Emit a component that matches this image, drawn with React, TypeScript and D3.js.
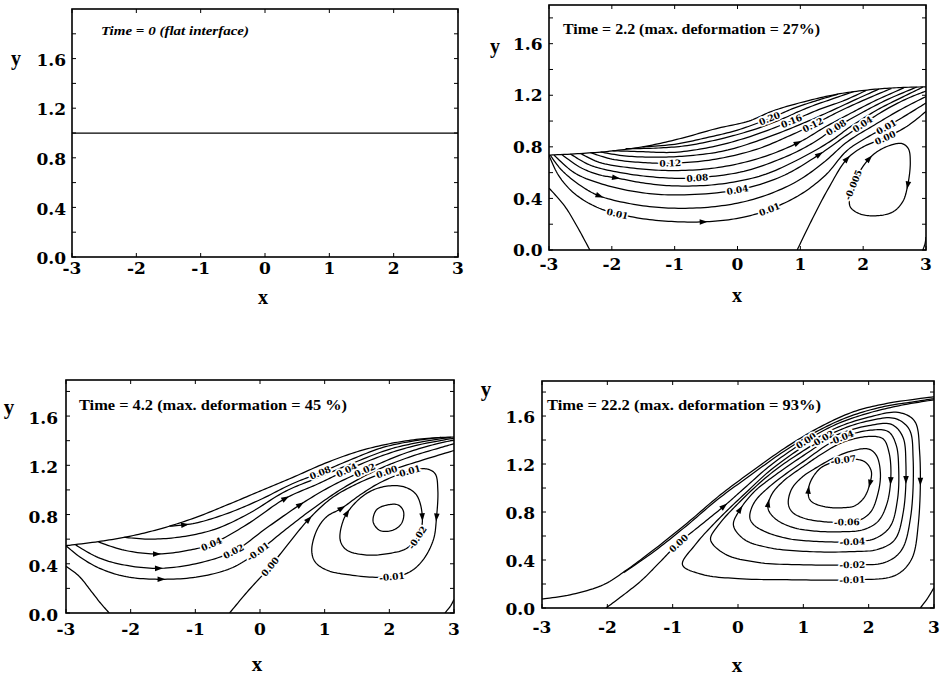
import * as d3 from "d3";

type Pt = [number, number];
type Stream = { id: string; pts: Pt[]; closed?: boolean };
type Label = { line: string; text: string; at: Pt };
type Arrow = { line: string; at: Pt };

// ── Axes ────────────────────────────────────────────────
const X_TICKS = [-3, -2, -1, 0, 1, 2, 3];
const Y_TICKS = [0, 0.4, 0.8, 1.2, 1.6];
const Y_MINOR = [0.2, 0.6, 1.0, 1.4, 1.8];

const TITLES = [
  "Time = 0 (flat interface)",
  "Time = 2.2 (max. deformation = 27%)",
  "Time = 4.2 (max. deformation = 45 %)",
  "Time = 22.2 (max. deformation = 93%)",
];

// ── t = 0 ───────────────────────────────────────────────
const IFACE_T0: Pt[] = [[-3, 1.0], [3, 1.0]];

// ── t = 2.2 ─────────────────────────────────────────────
const IFACE_T2: Pt[] = [[-3, 0.736], [-2.5, 0.748], [-1.94, 0.771], [-1.4, 0.81], [-0.88, 0.868], [-0.35, 0.94], [0.18, 1.0], [0.57, 1.08], [1.1, 1.155], [1.63, 1.212], [2.15, 1.245], [2.6, 1.26], [3, 1.265]];

const STREAMS_T2: Stream[] = [
  { id: "0.20", pts: [[-1.51, 0.8], [-1.0, 0.82], [-0.5, 0.87], [0, 0.93], [0.51, 1.02], [0.9, 1.1], [1.3, 1.165], [1.6, 1.208]] },
  { id: "0.18", pts: [[-1.78, 0.786], [-1.3, 0.79], [-0.8, 0.81], [-0.2, 0.87], [0.3, 0.94], [0.68, 1.01], [1.1, 1.1], [1.5, 1.17], [1.85, 1.228]] },
  { id: "0.16", pts: [[-1.99, 0.77], [-1.5, 0.762], [-1.0, 0.758], [-0.4, 0.8], [0.2, 0.88], [0.86, 1.0], [1.3, 1.09], [1.7, 1.16], [2.05, 1.238]] },
  { id: "0.14", pts: [[-2.18, 0.76], [-1.8, 0.73], [-1.3, 0.72], [-0.8, 0.73], [-0.2, 0.77], [0.4, 0.86], [1.03, 0.98], [1.45, 1.07], [1.85, 1.16], [2.25, 1.248]] },
  { id: "0.12", pts: [[-2.34, 0.755], [-2.0, 0.705], [-1.5, 0.678], [-1.07, 0.673], [-0.4, 0.7], [0.3, 0.78], [0.8, 0.88], [1.2, 0.97], [1.6, 1.07], [2.0, 1.16], [2.45, 1.253]] },
  { id: "0.10", pts: [[-2.5, 0.75], [-2.2, 0.68], [-1.6, 0.632], [-1, 0.616], [-0.3, 0.64], [0.4, 0.72], [1.0, 0.84], [1.38, 0.95], [1.8, 1.06], [2.2, 1.16], [2.65, 1.258]] },
  { id: "0.08", pts: [[-2.66, 0.745], [-2.4, 0.67], [-2.2, 0.635], [-1.6, 0.58], [-1, 0.556], [-0.64, 0.56], [0.1, 0.61], [0.8, 0.73], [1.2, 0.83], [1.57, 0.95], [2.0, 1.07], [2.4, 1.17], [2.85, 1.263]] },
  { id: "0.06", pts: [[-2.8, 0.742], [-2.5, 0.64], [-2.2, 0.583], [-1.94, 0.56], [-1.5, 0.52], [-1, 0.497], [-0.3, 0.51], [0.4, 0.58], [1.0, 0.71], [1.5, 0.85], [1.78, 0.95], [2.2, 1.08], [2.6, 1.18], [2.95, 1.263]] },
  { id: "0.04", pts: [[-2.92, 0.737], [-2.6, 0.6], [-2.2, 0.518], [-1.6, 0.45], [-1, 0.427], [0, 0.466], [0.7, 0.57], [1.3, 0.74], [1.65, 0.86], [1.99, 0.975], [2.4, 1.1], [2.75, 1.185], [3, 1.232]] },
  { id: "0.02", pts: [[-2.98, 0.736], [-2.8, 0.62], [-2.5, 0.5], [-2.2, 0.42], [-1.6, 0.35], [-1, 0.324], [-0.3, 0.34], [0.3, 0.4], [0.9, 0.52], [1.35, 0.67], [1.75, 0.84], [2.18, 0.97], [2.6, 1.09], [3, 1.19]] },
  { id: "0.01", pts: [[-3, 0.736], [-2.85, 0.58], [-2.6, 0.44], [-2.2, 0.324], [-1.6, 0.25], [-1, 0.22], [-0.4, 0.222], [0.1, 0.255], [0.51, 0.315], [1.0, 0.43], [1.4, 0.58], [1.74, 0.77], [2.05, 0.87], [2.37, 0.955], [2.7, 1.05], [3, 1.14]] },
  { id: "0.00", pts: [[0.95, 0], [1.2, 0.25], [1.45, 0.48], [1.74, 0.705], [2.0, 0.8], [2.35, 0.87], [2.7, 0.96], [3, 1.075]] },
  { id: "0.00L", pts: [[-3, 0.48], [-2.75, 0.34], [-2.55, 0.18], [-2.35, 0]] },
  { id: "0.00C", pts: [[2.95, 0], [2.985, 0.05], [3, 0.1]] },
  { id: "-0.005", closed: true, pts: [[1.78, 0.39], [1.84, 0.505], [2.0, 0.65], [2.2, 0.755], [2.45, 0.815], [2.62, 0.825], [2.72, 0.785], [2.75, 0.68], [2.71, 0.505], [2.63, 0.375], [2.47, 0.295], [2.2, 0.265], [1.95, 0.28], [1.8, 0.33]] },
];

const LABELS_T2: Label[] = [
  { line: "0.20", text: "0.20", at: [0.51, 1.02] },
  { line: "0.16", text: "0.16", at: [0.86, 1.0] },
  { line: "0.12", text: "0.12", at: [1.2, 0.97] },
  { line: "0.08", text: "0.08", at: [1.57, 0.95] },
  { line: "0.04", text: "0.04", at: [1.99, 0.975] },
  { line: "0.01", text: "0.01", at: [2.37, 0.955] },
  { line: "0.00", text: "0.00", at: [2.34, 0.87] },
  { line: "0.12", text: "0.12", at: [-1.07, 0.673] },
  { line: "0.08", text: "0.08", at: [-0.64, 0.56] },
  { line: "0.04", text: "0.04", at: [0, 0.466] },
  { line: "0.01", text: "0.01", at: [-1.89, 0.28] },
  { line: "0.01", text: "0.01", at: [0.51, 0.315] },
  { line: "-0.005", text: "-0.005", at: [1.84, 0.5] },
];

const ARROWS_T2: Arrow[] = [
  { line: "0.06", at: [-1.94, 0.56] },
  { line: "0.02", at: [-2.21, 0.42] },
  { line: "0.01", at: [-0.56, 0.222] },
  { line: "0.10", at: [0.97, 0.83] },
  { line: "0.04", at: [1.29, 0.735] },
  { line: "0.00", at: [1.74, 0.705] },
  { line: "-0.005", at: [2.1, 0.71] },
  { line: "-0.005", at: [2.71, 0.5] },
];

// ── t = 4.2 ─────────────────────────────────────────────
const IFACE_T4: Pt[] = [[-3, 0.547], [-2.5, 0.58], [-2, 0.625], [-1.5, 0.69], [-1, 0.775], [-0.5, 0.88], [0, 0.99], [0.5, 1.1], [1, 1.215], [1.5, 1.31], [2, 1.375], [2.5, 1.415], [3, 1.43]];

const STREAMS_T4: Stream[] = [
  { id: "0.08", pts: [[-1.4, 0.705], [-1.0, 0.73], [-0.5, 0.81], [0, 0.92], [0.5, 1.05], [0.93, 1.14], [1.4, 1.245], [1.9, 1.345], [2.4, 1.4], [2.8, 1.427]] },
  { id: "0.06", pts: [[-2.1, 0.615], [-1.7, 0.6], [-1.2, 0.62], [-0.7, 0.68], [-0.2, 0.8], [0.4, 0.99], [0.9, 1.1], [1.4, 1.21], [2, 1.33], [2.5, 1.39], [2.95, 1.427]] },
  { id: "0.04", pts: [[-2.5, 0.578], [-2.1, 0.51], [-1.6, 0.48], [-1.1, 0.51], [-0.75, 0.56], [-0.2, 0.72], [0.39, 0.93], [0.9, 1.05], [1.34, 1.16], [1.9, 1.28], [2.4, 1.36], [3, 1.42]] },
  { id: "0.02", pts: [[-2.85, 0.553], [-2.5, 0.45], [-2.1, 0.39], [-1.57, 0.363], [-1.0, 0.4], [-0.41, 0.5], [0.1, 0.69], [0.62, 0.88], [1.1, 1.03], [1.62, 1.16], [2.2, 1.29], [2.7, 1.37], [3, 1.405]] },
  { id: "A", pts: [[-3, 0.547], [-2.79, 0.457], [-2.48, 0.363], [-2.07, 0.295], [-1.53, 0.274], [-0.94, 0.295], [-0.42, 0.37], [-0.03, 0.5], [0.4, 0.68], [0.85, 0.86], [1.3, 1.02], [1.8, 1.16], [2.3, 1.265], [2.8, 1.345], [3, 1.375]] },
  { id: "0.00", pts: [[-0.47, 0], [-0.2, 0.17], [0.155, 0.376], [0.45, 0.57], [0.75, 0.76], [1.1, 0.93], [1.5, 1.05], [1.96, 1.148], [2.5, 1.24], [3, 1.32]] },
  { id: "0.00L", pts: [[-3, 0.38], [-2.8, 0.3], [-2.6, 0.17], [-2.45, 0.07], [-2.33, 0]] },
  { id: "0.00C", pts: [[2.86, 0], [2.95, 0.06], [3, 0.11]] },
  { id: "L1", closed: true, pts: [[0.8, 0.512], [0.88, 0.674], [1.03, 0.782], [1.26, 0.85], [1.55, 0.96], [1.86, 1.06], [2.29, 1.15], [2.58, 1.17], [2.71, 1.13], [2.75, 1.0], [2.73, 0.78], [2.68, 0.593], [2.5, 0.417], [2.27, 0.322], [1.91, 0.29], [1.39, 0.309], [1.03, 0.349], [0.85, 0.417]] },
  { id: "L2", closed: true, pts: [[1.24, 0.593], [1.29, 0.755], [1.42, 0.864], [1.65, 0.972], [1.91, 1.026], [2.22, 1.026], [2.42, 0.959], [2.51, 0.782], [2.47, 0.647], [2.27, 0.526], [2.01, 0.485], [1.65, 0.471], [1.34, 0.512]] },
  { id: "L3", closed: true, pts: [[1.75, 0.74], [1.8, 0.837], [1.96, 0.877], [2.14, 0.877], [2.22, 0.823], [2.19, 0.729], [2.06, 0.674], [1.86, 0.669]] },
];

const LABELS_T4: Label[] = [
  { line: "0.04", text: "0.04", at: [-0.75, 0.56] },
  { line: "0.02", text: "0.02", at: [-0.41, 0.5] },
  { line: "A", text: "-0.01", at: [-0.03, 0.5] },
  { line: "0.00", text: "0.00", at: [0.155, 0.376] },
  { line: "0.08", text: "0.08", at: [0.93, 1.14] },
  { line: "0.04", text: "0.04", at: [1.34, 1.16] },
  { line: "0.02", text: "0.02", at: [1.62, 1.16] },
  { line: "0.00", text: "0.00", at: [1.96, 1.148] },
  { line: "L1", text: "-0.01", at: [2.29, 1.15] },
  { line: "L2", text: "-0.02", at: [2.4, 0.62] },
  { line: "L1", text: "-0.01", at: [2.04, 0.295] },
];

const ARROWS_T4: Arrow[] = [
  { line: "A", at: [-1.53, 0.274] },
  { line: "0.02", at: [-1.57, 0.363] },
  { line: "0.04", at: [-1.6, 0.48] },
  { line: "0.08", at: [-1.18, 0.72] },
  { line: "0.04", at: [0.39, 0.95] },
  { line: "0.02", at: [0.62, 0.88] },
  { line: "0.00", at: [0.75, 0.76] },
  { line: "L1", at: [1.26, 0.85] },
  { line: "L2", at: [1.36, 0.81] },
  { line: "L2", at: [2.51, 0.78] },
  { line: "L1", at: [2.73, 0.78] },
];

// ── t = 22.2 ────────────────────────────────────────────
const IFACE_T22: Pt[] = [[-3, 0.075], [-2.57, 0.11], [-2.06, 0.194], [-1.7, 0.319], [-1.29, 0.485], [-0.78, 0.707], [-0.27, 0.943], [0.24, 1.15], [0.75, 1.345], [1.26, 1.51], [1.77, 1.636], [2.28, 1.705], [3, 1.76]];

const STREAMS_T22: Stream[] = [
  { id: "a", pts: [[-1.75, 0.295], [-1.3, 0.465], [-0.8, 0.68], [-0.3, 0.91], [0.2, 1.11], [0.7, 1.305], [1.2, 1.47], [1.7, 1.595], [2.2, 1.675], [2.7, 1.72], [3, 1.745]] },
  { id: "0.00", pts: [[-2.02, 0], [-1.75, 0.11], [-1.47, 0.233], [-1.2, 0.38], [-0.91, 0.54], [-0.55, 0.7], [-0.19, 0.86], [0.1, 1.0], [0.5, 1.19], [1.0, 1.38], [1.5, 1.53], [2.0, 1.625], [2.5, 1.69], [3, 1.735]] },
  { id: "0.00C", pts: [[2.79, 0], [2.9, 0.08], [3, 0.17]] },
  { id: "-0.01", closed: true, pts: [[-0.85, 0.36], [-0.65, 0.53], [-0.3, 0.74], [0.1, 0.95], [0.5, 1.15], [1.0, 1.345], [1.5, 1.5], [2.0, 1.59], [2.45, 1.63], [2.7, 1.56], [2.78, 1.3], [2.76, 0.7], [2.65, 0.4], [2.4, 0.27], [1.75, 0.235], [0.9, 0.235], [0.0, 0.245], [-0.55, 0.28]] },
  { id: "-0.02", closed: true, pts: [[-0.42, 0.57], [-0.3, 0.69], [0, 0.87], [0.5, 1.12], [1.0, 1.31], [1.5, 1.47], [2.0, 1.56], [2.4, 1.58], [2.62, 1.49], [2.68, 1.25], [2.64, 0.75], [2.5, 0.48], [2.25, 0.38], [1.75, 0.36], [1.0, 0.36], [0.3, 0.38], [-0.2, 0.45]] },
  { id: "-0.03", closed: true, pts: [[-0.07, 0.69], [0.03, 0.82], [0.25, 0.97], [0.5, 1.08], [1.0, 1.27], [1.5, 1.44], [2.0, 1.52], [2.35, 1.53], [2.52, 1.43], [2.57, 1.2], [2.53, 0.8], [2.4, 0.57], [2.15, 0.49], [1.75, 0.47], [1.1, 0.47], [0.5, 0.5], [0.1, 0.57]] },
  { id: "-0.04", closed: true, pts: [[0.18, 0.76], [0.25, 0.88], [0.5, 1.02], [1.0, 1.22], [1.5, 1.4], [2.0, 1.48], [2.3, 1.47], [2.42, 1.36], [2.46, 1.15], [2.44, 0.9], [2.33, 0.68], [2.1, 0.58], [1.75, 0.553], [1.2, 0.555], [0.75, 0.58], [0.4, 0.64], [0.23, 0.7]] },
  { id: "-0.05", closed: true, pts: [[0.46, 0.83], [0.52, 0.95], [0.7, 1.06], [1.0, 1.18], [1.3, 1.29], [1.6, 1.38], [2.0, 1.43], [2.22, 1.41], [2.31, 1.3], [2.34, 1.1], [2.28, 0.87], [2.14, 0.72], [1.9, 0.65], [1.6, 0.636], [1.2, 0.64], [0.85, 0.67], [0.58, 0.74]] },
  { id: "-0.06", closed: true, pts: [[0.77, 0.87], [0.82, 0.99], [0.98, 1.09], [1.2, 1.17], [1.5, 1.26], [1.75, 1.31], [2.0, 1.325], [2.12, 1.27], [2.18, 1.12], [2.14, 0.95], [2.03, 0.8], [1.85, 0.73], [1.6, 0.715], [1.3, 0.72], [1.0, 0.75], [0.83, 0.8]] },
  { id: "-0.07", closed: true, pts: [[1.08, 0.93], [1.1, 1.04], [1.25, 1.16], [1.45, 1.215], [1.61, 1.235], [1.8, 1.24], [1.95, 1.215], [2.04, 1.14], [2.02, 1.04], [1.93, 0.92], [1.78, 0.85], [1.61, 0.836], [1.4, 0.838], [1.22, 0.86], [1.12, 0.89]] },
];

const LABELS_T22: Label[] = [
  { line: "0.00", text: "0.00", at: [-0.91, 0.54] },
  { line: "0.00", text: "0.00", at: [1.05, 1.39] },
  { line: "-0.02", text: "-0.02", at: [1.3, 1.38] },
  { line: "-0.04", text: "-0.04", at: [1.61, 1.41] },
  { line: "-0.07", text: "-0.07", at: [1.61, 1.235] },
  { line: "-0.06", text: "-0.06", at: [1.66, 0.715] },
  { line: "-0.04", text: "-0.04", at: [1.76, 0.553] },
  { line: "-0.02", text: "-0.02", at: [1.74, 0.36] },
  { line: "-0.01", text: "-0.01", at: [1.74, 0.235] },
];

const ARROWS_T22: Arrow[] = [
  { line: "-0.07", at: [1.08, 0.983] },
  { line: "-0.07", at: [2.02, 1.04] },
  { line: "-0.05", at: [0.49, 0.87] },
  { line: "-0.05", at: [2.34, 1.07] },
  { line: "-0.03", at: [0.03, 0.817] },
  { line: "-0.03", at: [2.57, 1.08] },
  { line: "0.00", at: [-0.225, 0.844] },
  { line: "-0.01", at: [2.78, 1.08] },
];

// ── Panel layout ────────────────────────────────────────
const PANELS = [
  { key: "p1", left: 72, right: 458, top: 9, bottom: 257, yMax: 2.0,
    title: TITLES[0], tx: 101, ty: 35, tw: 148, ts: 12, italic: true,
    xName: [263, 304], yName: [16, 65], nameSize: 20, ydx: -6, ydy: 1, xdy: 17,
    iface: IFACE_T0, streams: [] as Stream[], labels: [] as Label[], arrows: [] as Arrow[] },
  { key: "p2", left: 549, right: 926, top: 5, bottom: 250, yMax: 1.9,
    title: TITLES[1], tx: 563, ty: 34, tw: 257, ts: 14.5, italic: false,
    xName: [737, 302], yName: [495, 53], nameSize: 20, ydx: -6.5, ydy: 0, xdy: 19.5,
    iface: IFACE_T2, streams: STREAMS_T2, labels: LABELS_T2, arrows: ARROWS_T2 },
  { key: "p3", left: 66, right: 454, top: 380, bottom: 613, yMax: 1.893,
    title: TITLES[2], tx: 79, ty: 410, tw: 268, ts: 14.5, italic: false,
    xName: [257, 671], yName: [9, 414], nameSize: 21, ydx: -8, ydy: 2, xdy: 22,
    iface: IFACE_T4, streams: STREAMS_T4, labels: LABELS_T4, arrows: ARROWS_T4 },
  { key: "p4", left: 542, right: 934, top: 381, bottom: 608, yMax: 1.892,
    title: TITLES[3], tx: 547, ty: 410, tw: 274, ts: 14.5, italic: false,
    xName: [737, 672], yName: [486, 396], nameSize: 21, ydx: -7, ydy: 1, xdy: 25,
    iface: IFACE_T22, streams: STREAMS_T22, labels: LABELS_T22, arrows: ARROWS_T22 },
];

const SERIF = "'DejaVu Serif', 'Liberation Serif', serif";
const TIMES = "'Liberation Serif', 'DejaVu Serif', serif";

// sample the smooth d3 curve into a dense polyline (pixel space)
function sampleCurve(pts: Pt[], closed: boolean, x: any, y: any): Pt[] {
  const out: Pt[] = [];
  let cx = 0, cy = 0, sx = 0, sy = 0;
  const ctx: any = {
    moveTo(a: number, b: number) { out.push([a, b]); cx = a; cy = b; sx = a; sy = b; },
    lineTo(a: number, b: number) { out.push([a, b]); cx = a; cy = b; },
    bezierCurveTo(x1: number, y1: number, x2: number, y2: number, a: number, b: number) {
      for (let i = 1; i <= 12; i++) {
        const t = i / 12, u = 1 - t;
        out.push([
          u * u * u * cx + 3 * u * u * t * x1 + 3 * u * t * t * x2 + t * t * t * a,
          u * u * u * cy + 3 * u * u * t * y1 + 3 * u * t * t * y2 + t * t * t * b,
        ]);
      }
      cx = a; cy = b;
    },
    closePath() { out.push([sx, sy]); },
  };
  d3.line<Pt>()
    .x(d => x(d[0]))
    .y(d => y(d[1]))
    .curve(closed ? d3.curveCatmullRomClosed.alpha(0.5) : d3.curveCatmullRom.alpha(0.5))
    .context(ctx)(pts);
  return out;
}

const toPath = (s: Pt[]) => "M" + s.map(p => `${p[0].toFixed(2)},${p[1].toFixed(2)}`).join("L");

function Panel({ p }: { p: typeof PANELS[number] }) {
  const xs = d3.scaleLinear().domain([-3, 3]).range([p.left, p.right]);
  const ys = d3.scaleLinear().domain([0, p.yMax]).range([p.bottom, p.top]);

  const all: Stream[] = [{ id: "iface", pts: p.iface }, ...p.streams];
  const sampled = new Map(all.map(s => [s.id, sampleCurve(s.pts, !!s.closed, xs, ys)]));

  const snap = (id: string, at: Pt) => {
    const s = sampled.get(id)!;
    const px = xs(at[0]), py = ys(at[1]);
    let bi = 0, bd = Infinity;
    s.forEach((q, i) => {
      const d = (q[0] - px) ** 2 + (q[1] - py) ** 2;
      if (d < bd) { bd = d; bi = i; }
    });
    const a = s[Math.max(0, bi - 2)], b = s[Math.min(s.length - 1, bi + 2)];
    return { x: s[bi][0], y: s[bi][1], ang: Math.atan2(b[1] - a[1], b[0] - a[0]) };
  };

  const clipId = `clip-${p.key}`;
  const T = 4;

  return (
    <g>
      <defs>
        <clipPath id={clipId}>
          <rect x={p.left} y={p.top} width={p.right - p.left} height={p.bottom - p.top} />
        </clipPath>
      </defs>

      {/* streamlines */}
      <g clipPath={`url(#${clipId})`} fill="none" stroke="#000" strokeWidth={1.25} strokeLinejoin="round">
        {all.map(s => <path key={s.id} d={toPath(sampled.get(s.id)!)} />)}
      </g>

      {/* arrow heads */}
      {p.arrows.map((a, i) => {
        const { x, y, ang } = snap(a.line, a.at);
        const ux = Math.cos(ang), uy = Math.sin(ang);
        const nx = -uy, ny = ux;
        const pts = [
          [x + ux * 4.5, y + uy * 4.5],
          [x - ux * 3.5 + nx * 2.8, y - uy * 3.5 + ny * 2.8],
          [x - ux * 3.5 - nx * 2.8, y - uy * 3.5 - ny * 2.8],
        ].map(q => q.join(",")).join(" ");
        return <polygon key={i} points={pts} fill="#000" />;
      })}

      {/* contour labels */}
      {p.labels.map((l, i) => {
        const { x, y, ang } = snap(l.line, l.at);
        let deg = (ang * 180) / Math.PI;
        if (deg > 90) deg -= 180;
        if (deg < -90) deg += 180;
        return (
          <text key={i} transform={`translate(${x.toFixed(2)},${y.toFixed(2)}) rotate(${deg.toFixed(1)})`}
            textAnchor="middle" dy="0.36em" fontSize={9} fontWeight="bold" fontFamily={SERIF}
            fill="#000" stroke="#fff" strokeWidth={3.5} strokeLinejoin="round"
            style={{ paintOrder: "stroke" }}>
            {l.text}
          </text>
        );
      })}

      {/* frame */}
      <rect x={p.left} y={p.top} width={p.right - p.left} height={p.bottom - p.top}
        fill="none" stroke="#000" strokeWidth={1.6} />

      {/* ticks */}
      <g stroke="#000" strokeWidth={1}>
        {X_TICKS.map(t => (
          <g key={`x${t}`}>
            <line x1={xs(t)} x2={xs(t)} y1={p.bottom} y2={p.bottom - T} />
            <line x1={xs(t)} x2={xs(t)} y1={p.top} y2={p.top + T} />
          </g>
        ))}
        {[...Y_TICKS, ...Y_MINOR].filter(t => t <= p.yMax).map(t => (
          <g key={`y${t}`}>
            <line x1={p.left} x2={p.left + T} y1={ys(t)} y2={ys(t)} />
            <line x1={p.right} x2={p.right - T} y1={ys(t)} y2={ys(t)} />
          </g>
        ))}
      </g>

      {/* tick labels */}
      <g fontFamily={SERIF} fontWeight="bold" fontSize={17} fill="#000">
        {Y_TICKS.map(t => (
          <text key={`yl${t}`} x={p.left + p.ydx} y={ys(t) + p.ydy} dy="0.36em" textAnchor="end">
            {d3.format(".1f")(t)}
          </text>
        ))}
        {X_TICKS.map(t => (
          <text key={`xl${t}`} x={xs(t)} y={p.bottom + p.xdy} textAnchor="middle">
            {String(t)}
          </text>
        ))}
      </g>

      {/* axis names */}
      <g fontFamily={TIMES} fontWeight="bold" fontSize={p.nameSize} fill="#000" textAnchor="middle">
        <text x={p.xName[0]} y={p.xName[1]}>x</text>
        <text x={p.yName[0]} y={p.yName[1]}>y</text>
      </g>

      {/* title */}
      <text x={p.tx} y={p.ty} fontFamily={TIMES} fontWeight="bold"
        fontStyle={p.italic ? "italic" : "normal"} fontSize={p.ts}
        textLength={p.tw} lengthAdjust="spacingAndGlyphs" fill="#000">
        {p.title}
      </text>
    </g>
  );
}

export default function App() {
  return (
    <svg width={944} height={679} viewBox="0 0 944 679"
      style={{ position: "absolute", left: 0, top: 0, background: "#fff", display: "block" }}>
      <rect x={0} y={0} width={944} height={679} fill="#fff" />
      {PANELS.map(p => <Panel key={p.key} p={p} />)}
    </svg>
  );
}
